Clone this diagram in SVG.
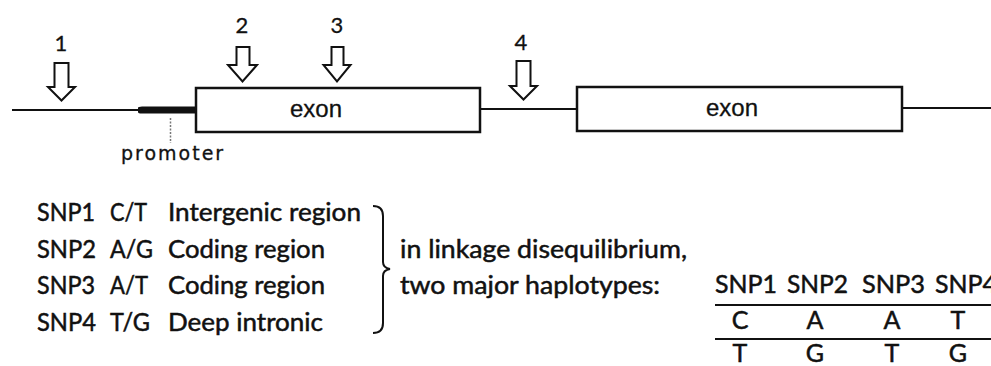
<svg xmlns="http://www.w3.org/2000/svg" width="991" height="366" viewBox="0 0 991 366">
  <style>
    .line { stroke: #111; stroke-width: 2; fill: none; }
    .exon { fill: #fff; stroke: #111; stroke-width: 2.5; }
    .arrow { fill: #fff; stroke: #111; stroke-width: 2; stroke-linejoin: miter; }
    .lbl { font-family: "Liberation Sans", Arial, sans-serif; font-size: 24px; fill: #111; stroke: #111; stroke-width: 0.3; text-anchor: middle; }
    .num { font-family: Lato, "Noto Sans", sans-serif; font-size: 22px; fill: #111; stroke: #111; stroke-width: 0.3; text-anchor: middle; }
    .prom { font-family: "DejaVu Sans", Verdana, sans-serif; font-size: 19px; fill: #111; stroke: #111; stroke-width: 0.3; letter-spacing: 2px; }
    .txt { font-family: Lato, "Noto Sans", sans-serif; font-size: 25px; fill: #111; stroke: #111; stroke-width: 0.5; }
    .mid { text-anchor: middle; }
  </style>
  <rect width="991" height="366" fill="#fff"/>

  <!-- gene backbone and promoter -->
  <g id="connectors">
    <line class="line" x1="12" y1="110" x2="196" y2="110"/>
    <line class="line" x1="480" y1="109" x2="577" y2="109"/>
    <line class="line" x1="902" y1="108" x2="991" y2="108"/>
    <path d="M138 108 Q138 106.5 142 106.5 L196 106.5 L196 113.5 L142 113.5 Q138 113.5 138 112 Z" fill="#111"/>
    <line x1="170.5" y1="118" x2="170.5" y2="143" stroke="#777" stroke-width="1.5" stroke-dasharray="2 1.5"/>
    <!-- brace grouping the four SNPs -->
    <path class="line" d="M373 206 Q383 206 383 216 L383 262 Q383 268 390 269 Q383 270 383 276 L383 323 Q383 333 373 333"/>
    <!-- haplotype table rules -->
    <line class="line" x1="715" y1="305" x2="991" y2="305"/>
    <line class="line" x1="715" y1="339" x2="991" y2="339"/>
  </g>

  <g id="promoter">
    <text class="prom" x="121" y="160">promoter</text>
  </g>

  <g id="exon1">
    <rect class="exon" x="196" y="88" width="284" height="44"/>
    <text class="lbl" x="316" y="117">exon</text>
  </g>

  <g id="exon2">
    <rect class="exon" x="577" y="87" width="325" height="44"/>
    <text class="lbl" x="732" y="116">exon</text>
  </g>

  <!-- SNP position markers -->
  <g id="snp1-marker">
    <text class="num" x="61" y="51">1</text>
    <polygon class="arrow" points="54.5,63 68.5,63 68.5,87 75,87 61.5,100.5 48,87 54.5,87"/>
  </g>
  <g id="snp2-marker">
    <text class="num" x="242" y="33">2</text>
    <polygon class="arrow" points="236.5,47 249.5,47 249.5,65 257,65 242.5,81.5 228,65 236.5,65"/>
  </g>
  <g id="snp3-marker">
    <text class="num" x="337" y="33">3</text>
    <polygon class="arrow" points="331.5,47 343.5,47 343.5,65 350.5,65 337,81.5 323.5,65 331.5,65"/>
  </g>
  <g id="snp4-marker">
    <text class="num" x="521" y="50">4</text>
    <polygon class="arrow" points="516.5,61 530.5,61 530.5,86 537,86 523.5,99.5 510,86 516.5,86"/>
  </g>

  <!-- SNP list -->
  <g id="snp-list">
    <text class="txt" x="37" y="221" textLength="58" lengthAdjust="spacingAndGlyphs">SNP1</text>
    <text class="txt" x="110" y="221" textLength="37" lengthAdjust="spacingAndGlyphs">C/T</text>
    <text class="txt" x="168" y="221" textLength="193" lengthAdjust="spacingAndGlyphs">Intergenic region</text>

    <text class="txt" x="37" y="258" textLength="59" lengthAdjust="spacingAndGlyphs">SNP2</text>
    <text class="txt" x="110" y="258" textLength="43" lengthAdjust="spacingAndGlyphs">A/G</text>
    <text class="txt" x="168" y="258" textLength="157" lengthAdjust="spacingAndGlyphs">Coding region</text>

    <text class="txt" x="37" y="294" textLength="58" lengthAdjust="spacingAndGlyphs">SNP3</text>
    <text class="txt" x="110" y="294" textLength="38" lengthAdjust="spacingAndGlyphs">A/T</text>
    <text class="txt" x="168" y="294" textLength="157" lengthAdjust="spacingAndGlyphs">Coding region</text>

    <text class="txt" x="37" y="331" textLength="59" lengthAdjust="spacingAndGlyphs">SNP4</text>
    <text class="txt" x="110" y="331" textLength="40" lengthAdjust="spacingAndGlyphs">T/G</text>
    <text class="txt" x="168" y="331" textLength="155" lengthAdjust="spacingAndGlyphs">Deep intronic</text>
  </g>

  <g id="ld-note">
    <text class="txt" x="400" y="258" textLength="287" lengthAdjust="spacingAndGlyphs">in linkage disequilibrium,</text>
    <text class="txt" x="400" y="294" textLength="260" lengthAdjust="spacingAndGlyphs">two major haplotypes:</text>
  </g>

  <!-- haplotype table -->
  <g id="haplotype-table">
    <text class="txt" x="715" y="293" textLength="62" lengthAdjust="spacingAndGlyphs">SNP1</text>
    <text class="txt" x="787" y="293" textLength="61" lengthAdjust="spacingAndGlyphs">SNP2</text>
    <text class="txt" x="862" y="293" textLength="63" lengthAdjust="spacingAndGlyphs">SNP3</text>
    <text class="txt" x="935" y="293" textLength="62" lengthAdjust="spacingAndGlyphs">SNP4</text>

    <text class="txt mid" x="740" y="329">C</text>
    <text class="txt mid" x="815" y="329">A</text>
    <text class="txt mid" x="892" y="329">A</text>
    <text class="txt mid" x="958" y="329">T</text>

    <text class="txt mid" x="740" y="362">T</text>
    <text class="txt mid" x="815" y="362">G</text>
    <text class="txt mid" x="892" y="362">T</text>
    <text class="txt mid" x="958" y="362">G</text>
  </g>
</svg>
